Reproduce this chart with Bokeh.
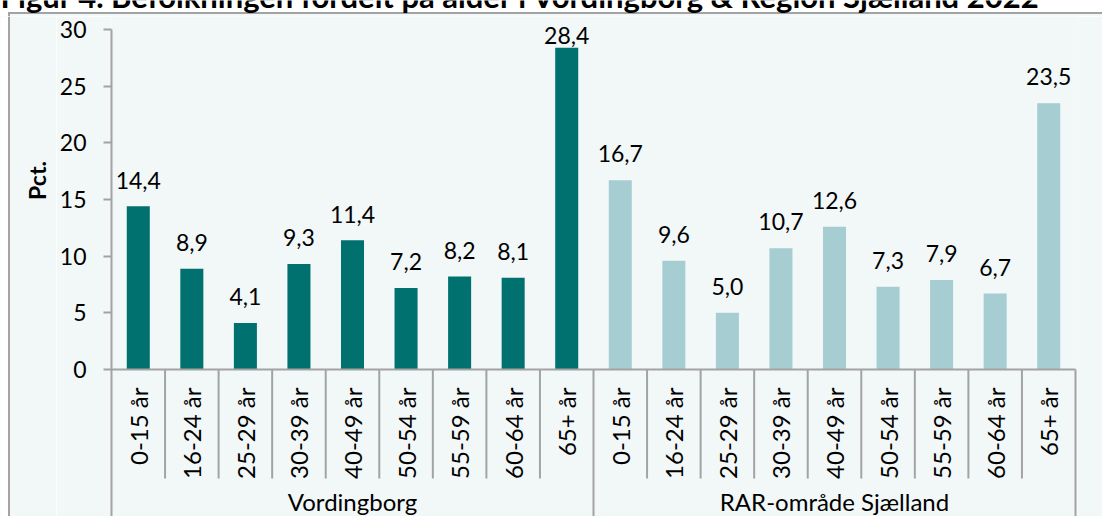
import math
from bokeh.plotting import figure
from bokeh.layouts import column, row
from bokeh.models import Range1d, FixedTicker, ColumnDataSource
from bokeh.core.properties import value
from bokeh.embed import file_html
from bokeh.resources import INLINE

# ---- data ----
title_text = "Figur 4. Befolkningen fordelt på alder i Vordingborg & Region Sjælland 2022"
groups = ["Vordingborg", "RAR-område Sjælland"]
age_groups = ["0-15 år", "16-24 år", "25-29 år", "30-39 år", "40-49 år",
              "50-54 år", "55-59 år", "60-64 år", "65+ år"]
vordingborg = [14.4, 8.9, 4.1, 9.3, 11.4, 7.2, 8.2, 8.1, 28.4]
rar_sjaelland = [16.7, 9.6, 5.0, 10.7, 12.6, 7.3, 7.9, 6.7, 23.5]
y_ticks = [0, 5, 10, 15, 20, 25, 30]
y_label = "Pct."
series = [vordingborg, rar_sjaelland]
colors = ["#00716f", "#a6cdd1"]

# ---- style / layout constants ----
FONT = "Lato"
FS_NUM = "23px"
FS_TXT = "24px"
BG = "#f2f7f7"
GRAY = "#a3a3a3"
W, H = 1102, 516
TOP_H = 16              # title strip height
LEFT_W = 56             # left strip (border line + y title)
AXIS_X = 110            # page x of the y axis
FRAME_W = 967
PX = 340 / 30.0         # pixels per unit on y
ZERO = 369              # page y of value 0
n_cat = len(age_groups)
n = n_cat * len(groups)
x_end = n * FRAME_W / 965.0
y_end = (ZERO - TOP_H) / PX
y_start = -(H - ZERO) / PX
y_range = Range1d(y_start, y_end)


def bare(width, height, x_range, yr):
    f = figure(width=width, height=height, x_range=x_range, y_range=yr,
               min_border_left=0, min_border_right=0, min_border_top=0, min_border_bottom=0,
               x_axis_location=None, y_axis_location=None, toolbar_location=None,
               output_backend="svg")
    f.outline_line_color = None
    f.grid.visible = False
    return f


# ---- title strip (cut at the top edge as in the source) ----
tf = bare(W, TOP_H, Range1d(0, W), Range1d(TOP_H, 0))
tf.background_fill_color = "white"
tf.border_fill_color = "white"
tf.quad(left=[9.5], right=[W], top=[13.5], bottom=[TOP_H], fill_color=BG, line_color=None)
tf.segment(x0=[8.5], y0=[12.5], x1=[W], y1=[12.5], line_color=GRAY, line_width=2)
tf.segment(x0=[8.5], y0=[11.5], x1=[8.5], y1=[TOP_H], line_color=GRAY, line_width=2)
tf.text(x=[0], y=[14.6], text=[title_text], text_align="left", text_baseline="bottom",
        text_font=value(FONT), text_font_size="31px", text_font_style="bold", text_color="black")

# ---- left strip with box border and y title ----
lf = bare(LEFT_W, H - TOP_H, Range1d(0, LEFT_W), y_range)
lf.background_fill_color = BG
lf.border_fill_color = BG
lf.quad(left=[0], right=[7.5], bottom=[y_start], top=[y_end], fill_color="white", line_color=None)
lf.segment(x0=[8.5], y0=[y_start], x1=[8.5], y1=[y_end], line_color=GRAY, line_width=2)
lf.text(x=[36], y=[(ZERO - 180) / PX], text=[y_label], angle=math.pi / 2,
        text_align="center", text_baseline="middle", text_font=value(FONT),
        text_font_size=FS_NUM, text_font_style="bold", text_color="black")

# ---- chart ----
CW = W - LEFT_W
p = figure(width=CW, height=H - TOP_H, x_range=Range1d(0, x_end), y_range=y_range,
           min_border_left=AXIS_X - LEFT_W, min_border_right=CW - (AXIS_X - LEFT_W) - FRAME_W,
           min_border_top=0, min_border_bottom=0,
           x_axis_location=None, toolbar_location=None, output_backend="svg")
p.border_fill_color = BG
p.background_fill_color = BG
p.outline_line_color = None
p.xgrid.visible = False
p.ygrid.visible = False

ax = p.yaxis[0]
ax.ticker = FixedTicker(ticks=y_ticks)
ax.bounds = (y_start, y_ticks[-1])
ax.axis_line_color = GRAY
ax.axis_line_width = 2
ax.major_tick_line_color = GRAY
ax.major_tick_line_width = 2
ax.major_tick_out = 8
ax.major_tick_in = 0
ax.minor_tick_line_color = None
ax.major_label_text_font = FONT
ax.major_label_text_font_size = FS_NUM
ax.major_label_text_color = "black"
ax.major_label_standoff = 17

# bars
xs, tops, cols, labels, ly = [], [], [], [], []
cap = 29.5
for g, vals in enumerate(series):
    for i, v in enumerate(vals):
        xs.append(g * n_cat + i + 0.5)
        tops.append(v)
        cols.append(colors[g])
        labels.append(f"{v:.1f}".replace(".", ","))
        ly.append(min(v + 26.3 / PX, cap))
src = ColumnDataSource(dict(x=xs, top=tops, color=cols, label=labels, ly=ly))
p.vbar(x="x", top="top", bottom=0, width=0.43, fill_color="color", line_color=None, source=src)

# value labels
p.text(x="x", y="ly", text="label", source=src, text_align="center", text_baseline="middle",
       text_font=value(FONT), text_font_size=FS_NUM, text_color="black")

# horizontal axis line
p.segment(x0=[0], y0=[0], x1=[n], y1=[0], line_color=GRAY, line_width=2)

# category separators
sep_x0, sep_y1 = [], []
for k in range(1, n + 1):
    sep_x0.append(k)
    sep_y1.append(y_start if k % n_cat == 0 else -(478 - ZERO) / PX)
p.segment(x0=sep_x0, y0=[0] * len(sep_x0), x1=sep_x0, y1=sep_y1, line_color=GRAY, line_width=2)

# category labels (rotated)
cat_src = ColumnDataSource(dict(x=xs, t=age_groups * len(groups)))
p.text(x="x", y=-18 / PX, text="t", source=cat_src, angle=math.pi / 2,
       text_align="right", text_baseline="middle",
       text_font=value(FONT), text_font_size=FS_TXT, text_color="black")

# group labels
grp_src = ColumnDataSource(dict(x=[g * n_cat + n_cat / 2 for g in range(len(groups))], t=groups))
p.text(x="x", y=-(501 - ZERO) / PX, text="t", source=grp_src, text_align="center",
       text_baseline="middle", text_font=value(FONT), text_font_size=FS_TXT, text_color="black")

layout = column(tf, row(lf, p))
open("out.html", "w").write(file_html(layout, INLINE))
